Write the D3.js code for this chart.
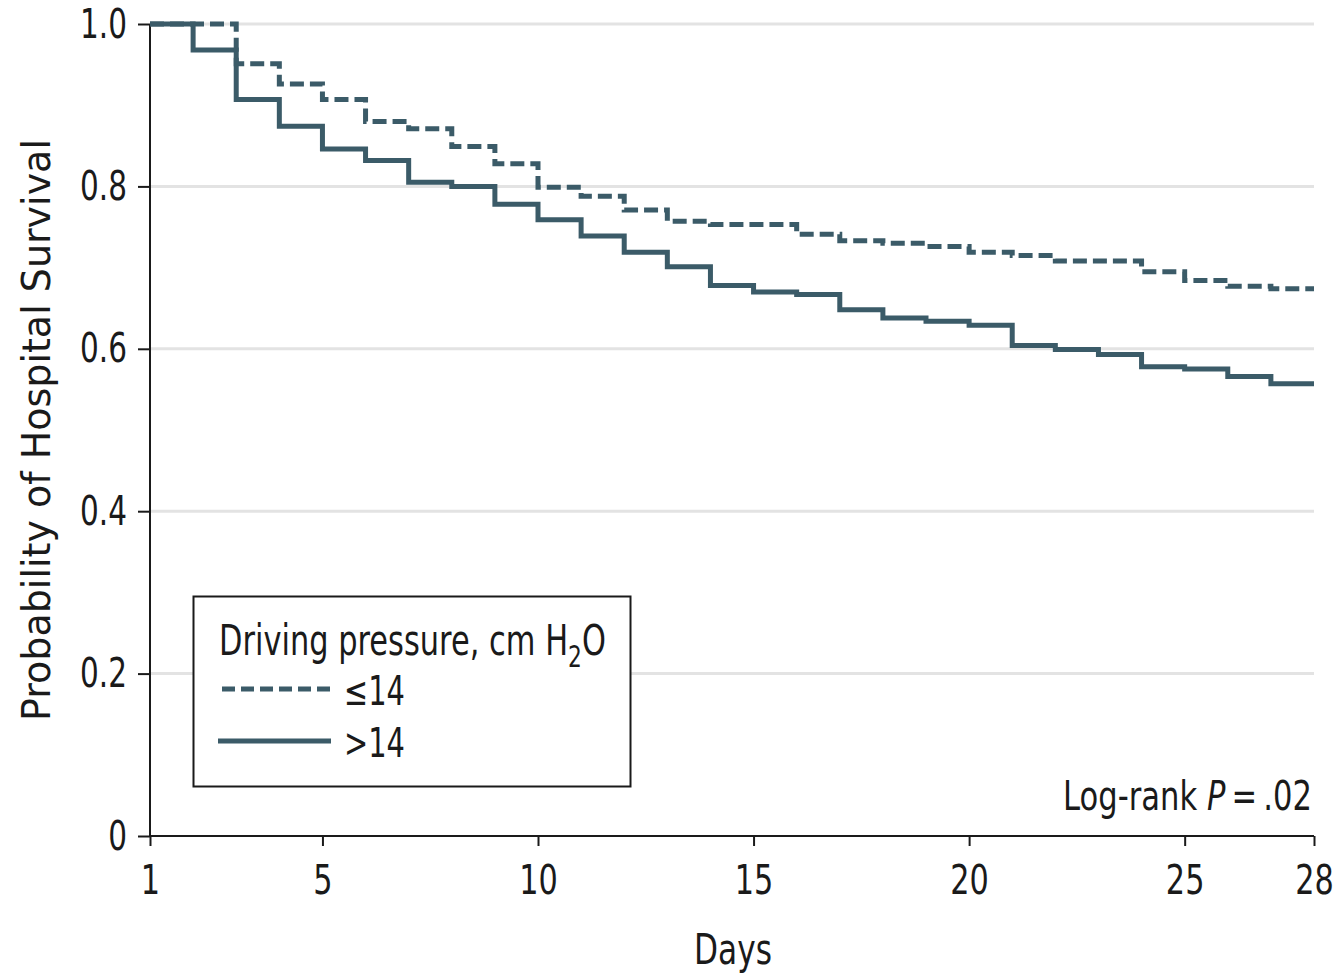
<!DOCTYPE html>
<html><head><meta charset="utf-8">
<script src="https://cdn.jsdelivr.net/npm/d3@7"></script>
<style>
body{margin:0;background:#fff;}
text{font-family:"DejaVu Sans","Noto Sans",sans-serif;fill:#1a1a1a;}
</style></head>
<body><svg id="c" width="1339" height="975"></svg>
<script>
const days = [1,2,3,4,5,6,7,8,9,10,11,12,13,14,15,16,17,18,19,20,21,22,23,24,25,26,27,28];
const lowDP = [1.0,1.0,0.951,0.926,0.907,0.880,0.871,0.849,0.828,0.799,0.788,0.771,0.757,0.753,0.753,0.741,0.733,0.730,0.726,0.719,0.715,0.708,0.708,0.695,0.684,0.677,0.674,0.674];
const highDP = [1.0,0.968,0.907,0.874,0.846,0.832,0.805,0.800,0.778,0.759,0.739,0.719,0.701,0.678,0.670,0.667,0.648,0.638,0.634,0.629,0.604,0.599,0.593,0.578,0.575,0.566,0.557,0.557];
const xTicks = [1,5,10,15,20,25,28];
const yTicks = [0,0.2,0.4,0.6,0.8,1.0];
const seriesNames = ["\u226414", ">14"];

const svg = d3.select("#c");
const color = "#3b5b68";
const x = d3.scaleLinear().domain([1,28]).range([150,1314]);
const y = d3.scaleLinear().domain([0,1]).range([836,24]);

// horizontally compress a text element about its anchor point
function squeeze(node, s, target){
  const b = node.getBBox();
  if (target) s = target / b.width;
  const anchor = node.getAttribute("text-anchor") || getComputedStyle(node).textAnchor || "start";
  let ax = b.x;
  if (anchor === "end") ax = b.x + b.width;
  else if (anchor === "middle") ax = b.x + b.width/2;
  const prev = node.getAttribute("transform") || "";
  node.setAttribute("transform", prev + ` translate(${ax},0) scale(${s},1) translate(${-ax},0)`);
}

// grid
svg.append("g").selectAll("line").data(yTicks.filter(d=>d>0)).join("line")
  .attr("x1",150).attr("x2",1314).attr("y1",d=>y(d)).attr("y2",d=>y(d))
  .attr("stroke","#e3e3e3").attr("stroke-width",3);

// axes
const yAxis = d3.axisLeft(y).tickValues(yTicks).tickFormat(d=>d===0?"0":d3.format(".1f")(d)).tickSize(12).tickPadding(11);
const gy = svg.append("g").attr("transform","translate(150,0)").call(yAxis);
gy.select(".domain").attr("stroke","#1a1a1a").attr("stroke-width",2).attr("d","M0,24V836");
gy.selectAll(".tick line").attr("stroke","#1a1a1a").attr("stroke-width",2);
gy.selectAll(".tick text").attr("font-size",41).attr("fill","#1a1a1a").attr("font-family",null)
  .attr("text-anchor","end").each(function(){ squeeze(this, 0.72); });

const xAxis = d3.axisBottom(x).tickValues(xTicks).tickSize(10).tickPadding(19);
const gx = svg.append("g").attr("transform","translate(0,836)").call(xAxis);
gx.select(".domain").attr("stroke","#1a1a1a").attr("stroke-width",2).attr("d","M150,0H1314");
gx.selectAll(".tick line").attr("stroke","#1a1a1a").attr("stroke-width",2);
gx.selectAll(".tick text").attr("font-size",41).attr("fill","#1a1a1a").attr("font-family",null)
  .attr("text-anchor","middle").each(function(){ squeeze(this, 0.74); });

// curves
const line = d3.line().x((d,i)=>x(days[i])).y(d=>y(d)).curve(d3.curveStepAfter);
svg.append("path").datum(highDP).attr("d",line).attr("fill","none")
  .attr("stroke",color).attr("stroke-width",5);
svg.append("path").datum(lowDP).attr("d",line).attr("fill","none")
  .attr("stroke",color).attr("stroke-width",5).attr("stroke-dasharray","14,6");

// axis titles
const yl = svg.append("g").attr("transform","translate(50,430) rotate(-90)");
yl.append("text").attr("text-anchor","middle").attr("font-size",39)
  .text("Probability of Hospital Survival").each(function(){ squeeze(this, 1, 582); });
svg.append("text").attr("x",733).attr("y",964).attr("text-anchor","middle")
  .attr("font-size",42).text("Days").each(function(){ squeeze(this, 1, 78); });

// legend
const lg = svg.append("g");
lg.append("rect").attr("x",193.5).attr("y",596.5).attr("width",437).attr("height",190)
  .attr("fill","#fff").attr("stroke","#1a1a1a").attr("stroke-width",2);
const tt = lg.append("text").attr("x",219).attr("y",655).attr("font-size",42).attr("text-anchor","start");
tt.append("tspan").text("Driving pressure, cm H");
tt.append("tspan").attr("font-size",30).attr("dy",12).text("2");
tt.append("tspan").attr("dy",-12).text("O");
squeeze(tt.node(), 1, 387);
lg.append("line").attr("x1",222).attr("x2",331).attr("y1",689).attr("y2",689)
  .attr("stroke",color).attr("stroke-width",5).attr("stroke-dasharray","13,6");
lg.append("line").attr("x1",218).attr("x2",331).attr("y1",741).attr("y2",741)
  .attr("stroke",color).attr("stroke-width",5);
lg.append("text").attr("x",344).attr("y",705).attr("font-size",40).attr("text-anchor","start")
  .text(seriesNames[0]).each(function(){ squeeze(this, 1, 61); });
lg.append("text").attr("x",344).attr("y",757).attr("font-size",40).attr("text-anchor","start")
  .text(seriesNames[1]).each(function(){ squeeze(this, 1, 61); });

// log-rank
const lr = svg.append("text").attr("x",1312).attr("y",810).attr("text-anchor","end").attr("font-size",40);
lr.append("tspan").text("Log-rank ");
lr.append("tspan").attr("font-style","italic").text("P");
lr.append("tspan").text("\u2009=\u2009.02");
squeeze(lr.node(), 1, 249);
</script></body></html>
